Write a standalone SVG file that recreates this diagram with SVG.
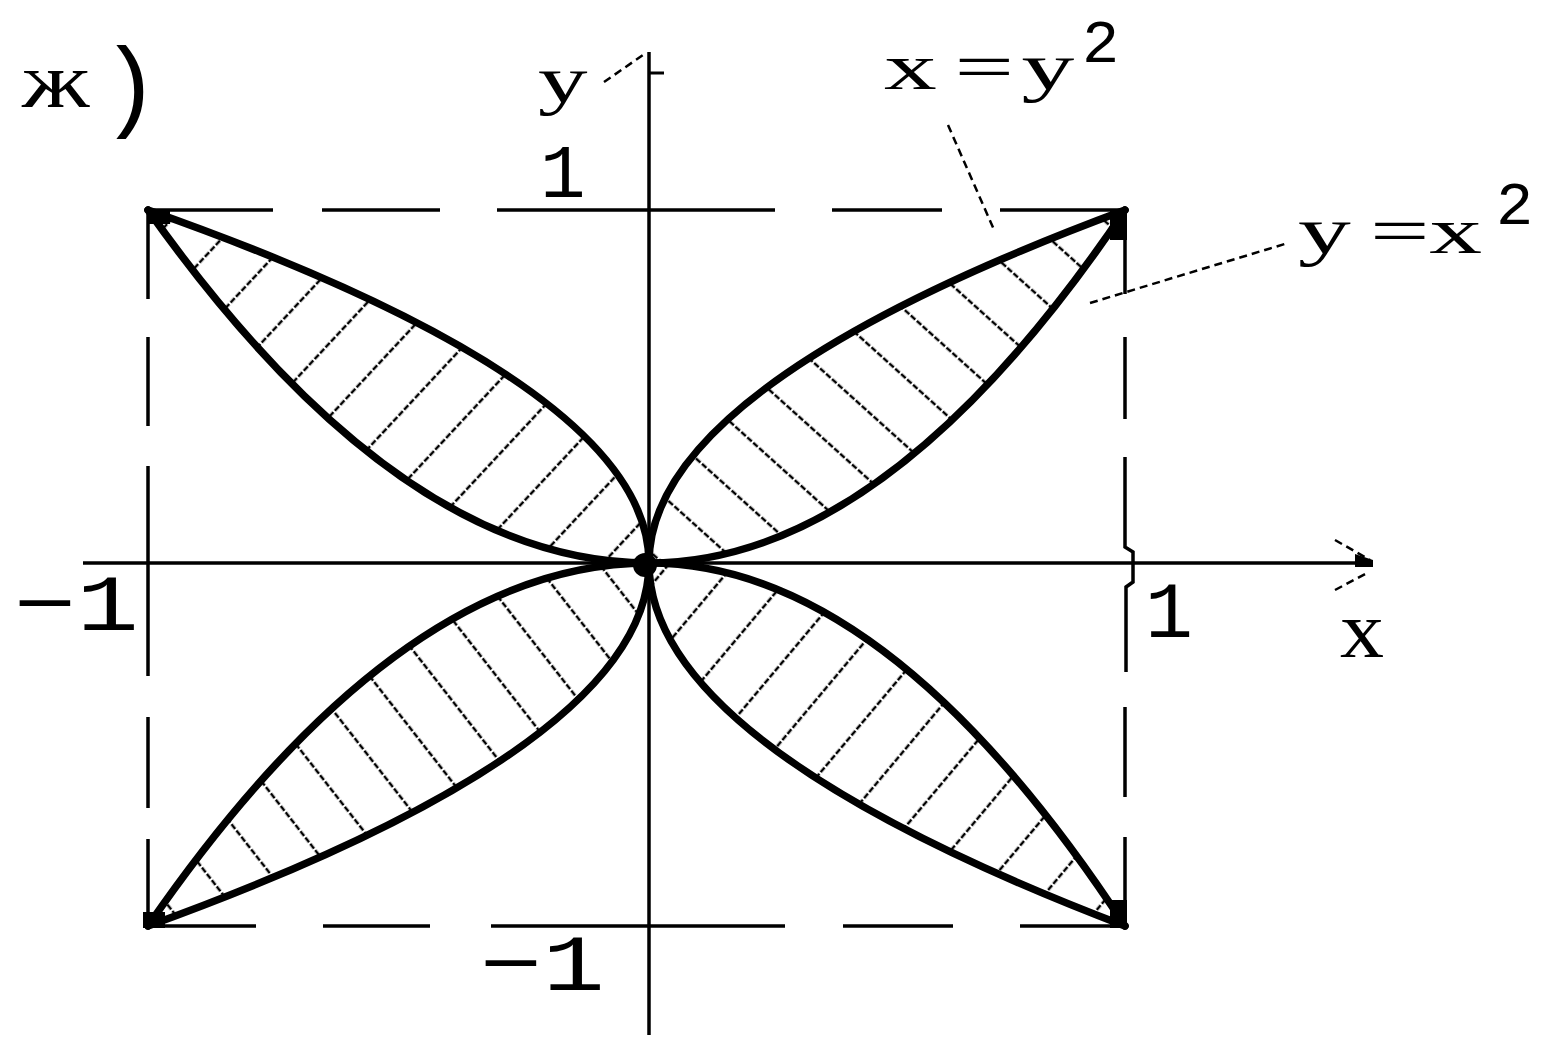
<svg xmlns="http://www.w3.org/2000/svg" width="1547" height="1039" viewBox="0 0 1547 1039">
<style>
.axis{stroke:#000;stroke-width:3.5;fill:none}
.frame{stroke:#000;stroke-width:3.5;fill:none}
.curve{stroke:#000;stroke-width:7.5;fill:none;stroke-linecap:round;stroke-linejoin:round}
.lead{stroke:#000;stroke-width:2.5;fill:none;stroke-dasharray:8 5}
.h{stroke:#000;stroke-width:2.5;stroke-dasharray:6 2}
.t{font-family:"Liberation Mono","DejaVu Sans Mono",monospace;fill:#000}
.s{font-family:"Liberation Serif","DejaVu Serif",serif;fill:#000}
</style>
<defs>
<pattern id="hq1" patternUnits="userSpaceOnUse" width="64" height="50" patternTransform="rotate(42)"><line class="h" x1="0" y1="25" x2="64" y2="25"/></pattern>
<pattern id="hq2" patternUnits="userSpaceOnUse" width="64" height="50" patternTransform="rotate(-47)"><line class="h" x1="0" y1="25" x2="64" y2="25"/></pattern>
<pattern id="hq3" patternUnits="userSpaceOnUse" width="64" height="50" patternTransform="rotate(52)"><line class="h" x1="0" y1="25" x2="64" y2="25"/></pattern>
<pattern id="hq4" patternUnits="userSpaceOnUse" width="64" height="50" patternTransform="rotate(-50)"><line class="h" x1="0" y1="25" x2="64" y2="25"/></pattern>
</defs>
<rect width="1547" height="1039" fill="#fff"/>

<g id="frame">
<path class="frame" d="M148,210H273M322,210H440M497,210H775M832,210H942M1000,210H1125"/>
<path class="frame" d="M148,926H256M323,926H430M491,926H785M843,926H953M1020,926H1125"/>
<path class="frame" d="M148,210V299M148,337V426M148,466V676M148,717V808M148,839V926"/>
<path class="frame" d="M1125,210V294M1125,337V419M1125,457V547L1133,552V582L1126,587V672M1125,707V797M1125,837V926"/>
</g>

<g id="axes">
<line class="axis" x1="649" y1="52" x2="649" y2="1035"/>
<line class="axis" x1="83" y1="563" x2="1373" y2="563"/>
<line class="axis" x1="649" y1="73" x2="664" y2="73" style="stroke-width:3"/>
<line class="lead" x1="604" y1="82" x2="643" y2="55"/>
<line class="lead" x1="1335" y1="540" x2="1370" y2="560"/>
<line class="lead" x1="1335" y1="590" x2="1367" y2="573"/>
<path d="M1355,554L1373,560L1373,567L1355,567Z" fill="#000"/>
</g>

<g id="hatching">
<path fill="url(#hq1)" d="M649,563 Q887,563 1125,210 Q649,386.5 649,563Z"/>
<path fill="url(#hq2)" d="M649,563 Q398.5,563 148,210 Q649,386.5 649,563Z"/>
<path fill="url(#hq3)" d="M649,563 Q398.5,563 148,926 Q649,744.5 649,563Z"/>
<path fill="url(#hq4)" d="M649,563 Q887,563 1125,926 Q649,744.5 649,563Z"/>
</g>

<g id="curves">
<path class="curve" d="M649,563 Q887,563 1125,210"/>
<path class="curve" d="M649,563 Q649,386.5 1125,210"/>
<path class="curve" d="M649,563 Q398.5,563 148,210"/>
<path class="curve" d="M649,563 Q649,386.5 148,210"/>
<path class="curve" d="M649,563 Q398.5,563 148,926"/>
<path class="curve" d="M649,563 Q649,744.5 148,926"/>
<path class="curve" d="M649,563 Q887,563 1125,926"/>
<path class="curve" d="M649,563 Q649,744.5 1125,926"/>
<circle cx="645" cy="565" r="12" fill="#000"/>
<rect x="1110" y="210" width="17" height="30" fill="#000"/>
<rect x="148" y="210" width="22" height="14" fill="#000"/>
<rect x="143" y="912" width="22" height="16" fill="#000"/>
<rect x="1110" y="900" width="17" height="28" fill="#000"/>
</g>

<g id="leaders">
<line class="lead" x1="948" y1="125" x2="995" y2="232"/>
<line class="lead" x1="1090" y1="303" x2="1288" y2="243"/>
</g>

<g id="labels">
<text class="s" font-size="78" transform="translate(22,107) scale(1.25,1)">ж</text>
<text class="t" font-size="100" x="100" y="118">)</text>
<text class="s" font-size="66" transform="translate(538,102) scale(1.5,1)">y</text>
<text class="t" font-size="76" x="540" y="197">1</text>
<text class="s" font-size="66" transform="translate(884,89) scale(1.6,1)"><tspan x="0 44 86">x=y</tspan></text>
<text class="t" font-size="62" x="1082" y="62">2</text>
<text class="s" font-size="66" transform="translate(1298,253) scale(1.6,1)"><tspan x="0 45 82">y=x</tspan></text>
<text class="t" font-size="62" x="1496" y="224">2</text>
<text class="t" font-size="80" transform="translate(14,630) scale(1.3,1)">−1</text>
<text class="t" font-size="80" x="1145" y="637">1</text>
<text class="s" font-size="80" transform="translate(1340,657) scale(1.1,1)">x</text>
<text class="t" font-size="80" transform="translate(480,990) scale(1.3,1)">−1</text>
</g>
</svg>
